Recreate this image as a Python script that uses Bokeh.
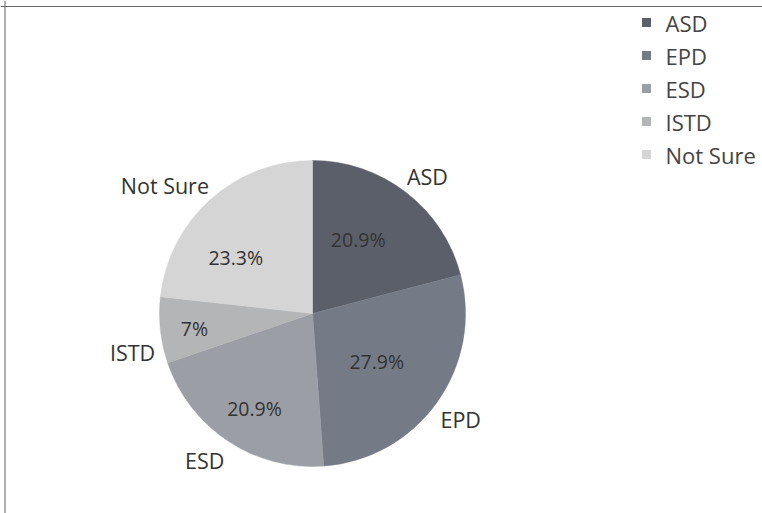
import math
from bokeh.plotting import figure
from bokeh.models import ColumnDataSource, Range1d, Span
from bokeh.core.properties import value
from bokeh.embed import file_html
from bokeh.resources import INLINE

# ---- data ----
categories = ["ASD", "EPD", "ESD", "ISTD", "Not Sure"]
counts = [9, 12, 9, 3, 10]
pct_labels = ["20.9%", "27.9%", "20.9%", "7%", "23.3%"]
colors = ["#5b5f69", "#747b87", "#9b9ea5", "#b3b5b7", "#d5d5d5"]

# ---- layout (pixel space, y measured from the top) ----
W, H = 762, 513
CX, CY, R = 312, 313, 153
out_r = [166, 166, 171, 162, 165]   # anchor radius of outer labels per slice
out_da = [-3, 4, -2.5, -7.5, 3]     # angle tweak (deg) of outer labels per slice
pct_r = [87, 80, 111, 119, 95]      # radius of percent labels per slice
pct_da = [-6, 1, -2, -1, -12]       # angle tweak (deg) of percent labels per slice
FONT = "Open Sans"
TXT = "#333333"

def Y(py):
    return H - py

p = figure(width=W, height=H, x_range=Range1d(0, W), y_range=Range1d(0, H),
           toolbar_location=None, output_backend="svg", min_border=0)
p.axis.visible = False
p.grid.visible = False
p.outline_line_color = None
p.background_fill_color = "white"
p.border_fill_color = "white"

# frame lines (top and left)
p.add_layout(Span(location=Y(6), dimension="width", line_color="#666666", line_width=1))
p.add_layout(Span(location=4.5, dimension="height", line_color="#666666", line_width=1))

total = float(sum(counts))
starts, ends, mids = [], [], []
cum = 0.0
for c in counts:
    a0 = cum / total
    cum += c
    a1 = cum / total
    starts.append(math.pi / 2 - a0 * 2 * math.pi)
    ends.append(math.pi / 2 - a1 * 2 * math.pi)
    mids.append((a0 + a1) / 2 * 360.0)   # degrees clockwise from top

src = ColumnDataSource(dict(cat=categories, start=starts, end=ends, color=colors))
p.wedge(x=CX, y=Y(CY), radius=R, start_angle="start", end_angle="end",
        direction="clock", fill_color="color", line_color="color", line_width=0.5,
        source=src)

# percent labels
px, py = [], []
for m, r, da in zip(mids, pct_r, pct_da):
    a = math.radians(m + da)
    px.append(CX + r * math.sin(a))
    py.append(Y(CY) + r * math.cos(a))
p.text(x=px, y=py, text=pct_labels, text_align="center", text_baseline="middle",
       text_font=value(FONT), text_font_size="19.5px", text_color=TXT)

# outer category labels
ox, oy, oal = [], [], []
for m, r, da in zip(mids, out_r, out_da):
    a = math.radians(m + da)
    ox.append(CX + r * math.sin(a))
    oy.append(Y(CY) + r * math.cos(a))
    oal.append("left" if math.sin(a) >= 0 else "right")
osrc = ColumnDataSource(dict(x=ox, y=oy, t=categories, al=oal))
p.text(x="x", y="y", text="t", text_align="al", text_baseline="middle",
       text_font=value(FONT), text_font_size="21.5px", text_color=TXT, source=osrc)

# legend
LX, LY0, LDY = 646, 22, 33
ly = [Y(LY0 + i * LDY) for i in range(len(categories))]
p.rect(x=[LX] * len(categories), y=ly, width=9, height=9, fill_color=colors,
       line_color=None)
p.text(x=[LX + 19] * len(categories), y=ly, text=categories, text_align="left",
       text_baseline="middle", text_font=value(FONT), text_font_size="22px",
       text_color="#444444")

open("out.html", "w").write(file_html(p, INLINE))
